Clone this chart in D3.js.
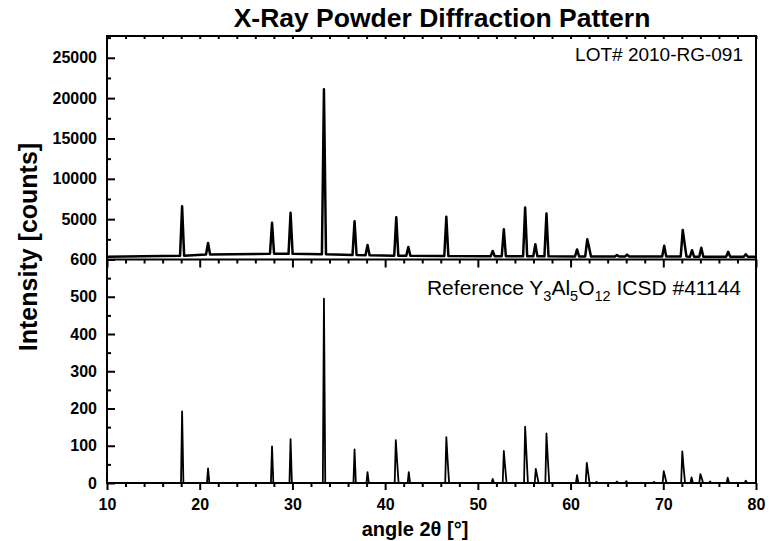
<!DOCTYPE html>
<html>
<head>
<meta charset="utf-8">
<script src="https://cdn.jsdelivr.net/npm/d3@7"></script>
<style>
  body { margin: 0; background: #fff; }
  text { font-family: "Liberation Sans", Arial, sans-serif; fill: #000; }
</style>
</head>
<body>
<svg width="772" height="541"></svg>
<script>
const angleTicks = [10, 20, 30, 40, 50, 60, 70, 80];
const topTicks = [5000, 10000, 15000, 20000, 25000];
const refTicks = [0, 100, 200, 300, 400, 500, 600];

const topStart = [10, 350];
const topEnd = [80, 330];
const topPeakAngle = [18.1, 20.9, 27.8, 29.8, 33.4, 36.7, 38.1, 41.2, 42.5, 46.6, 51.6, 52.8, 55.1, 56.2, 57.4, 60.7, 61.8, 65.0, 66.1, 70.1, 72.1, 73.1, 74.1, 77.0, 78.9];
const topPeakCounts = [6600, 2050, 4550, 5800, 21100, 4750, 1800, 5250, 1550, 5300, 1050, 3750, 6450, 1900, 5700, 1250, 2500, 550, 600, 1700, 3650, 1150, 1450, 950, 650];
const topShoulder = [0, 0, 0, 0, 0, 0, 0, 0, 0, 0, 0, 0, 0, 0, 0, 0, 1700, 0, 0, 0, 2300, 0, 0, 0, 0];
const topPeakFoot = [480, 620, 720, 700, 650, 560, 520, 480, 470, 430, 410, 410, 400, 400, 390, 380, 380, 370, 370, 360, 360, 350, 350, 340, 340];

const refPeakAngle = [18.1, 20.9, 27.8, 29.8, 33.4, 36.7, 38.1, 41.15, 42.55, 46.6, 51.6, 52.8, 55.1, 56.25, 57.4, 60.7, 61.75, 62.8, 65.0, 66.0, 69.0, 70.05, 72.05, 73.05, 74.0, 75.05, 76.95, 78.9];
const refPeakHeight = [192, 39, 98, 118, 495, 90, 29, 115, 29, 123, 11, 86, 151, 38, 133, 21, 54, 3, 4, 5, 3, 32, 85, 15, 24, 4, 14, 6];
const refShoulder = [0, 0, 0, 0, 0, 0, 0, 62, 0, 65, 0, 47, 84, 21, 71, 0, 30, 0, 0, 0, 0, 18, 45, 0, 14, 0, 0, 0];

const svg = d3.select("svg");
const plotLeft = 107, plotRight = 756, plotTop = 36, plotMid = 259.5, plotBottom = 483;

const x = d3.scaleLinear().domain([10, 80]).range([plotLeft, plotRight]);
const yTop = d3.scaleLinear().domain([0, 27700]).range([plotMid, plotTop]);
const yRef = d3.scaleLinear().domain([0, 600]).range([plotBottom, plotMid]);

// build the polylines from the peak lists
const topPoints = [topStart];
topPeakAngle.forEach((a, i) => {
  const f = topPeakFoot[i];
  topPoints.push([a - 0.22, f], [a, topPeakCounts[i]]);
  if (topShoulder[i]) topPoints.push([a + 0.16, topShoulder[i]], [a + 0.4, f]);
  else topPoints.push([a + 0.22, f]);
});
topPoints.push(topEnd);

const refPoints = [[10, 0]];
refPeakAngle.forEach((a, i) => {
  refPoints.push([a - 0.12, 0], [a, refPeakHeight[i]]);
  if (refShoulder[i]) refPoints.push([a + 0.13, refShoulder[i]], [a + 0.3, 0]);
  else refPoints.push([a + 0.14, 0]);
});
refPoints.push([80, 0]);

svg.append("path")
  .datum(topPoints)
  .attr("fill", "none")
  .attr("stroke", "#000")
  .attr("stroke-width", 2.5)
  .attr("stroke-linejoin", "round")
  .attr("d", d3.line().x(d => x(d[0])).y(d => yTop(d[1])));

svg.append("path")
  .datum(refPoints)
  .attr("fill", "none")
  .attr("stroke", "#000")
  .attr("stroke-width", 1.8)
  .attr("stroke-linejoin", "round")
  .attr("d", d3.line().x(d => x(d[0])).y(d => yRef(d[1])));

// axes
const tickFont = g => g.selectAll("text")
  .style("font-size", "16px").style("font-weight", "bold")
  .style("font-family", "'Liberation Sans', Arial, sans-serif");
const clean = g => { g.select(".domain").remove(); g.selectAll("line").attr("stroke-width", 2); };

const minorX = d3.range(10, 81, 2).filter(v => v % 10 !== 0);

// bottom x axis
svg.append("g").attr("transform", `translate(0,${plotBottom})`)
  .call(d3.axisBottom(x).tickValues(angleTicks).tickSize(7).tickPadding(9))
  .call(clean).call(tickFont);
svg.append("g").attr("transform", `translate(0,${plotBottom})`)
  .call(d3.axisBottom(x).tickValues(minorX).tickSize(4).tickFormat(""))
  .call(clean);

// ticks under the separator
svg.append("g").attr("transform", `translate(0,${plotMid})`)
  .call(d3.axisBottom(x).tickValues(angleTicks).tickSize(8).tickFormat(""))
  .call(clean);
svg.append("g").attr("transform", `translate(0,${plotMid})`)
  .call(d3.axisBottom(x).tickValues(minorX).tickSize(4).tickFormat(""))
  .call(clean);

// small ticks along the top border
svg.append("g").attr("transform", `translate(0,${plotTop})`)
  .call(d3.axisBottom(x).tickValues(d3.range(10, 81, 2)).tickSize(3).tickFormat(""))
  .call(clean);

// left axes, ticks inward
svg.append("g").attr("transform", `translate(${plotLeft},0)`)
  .call(d3.axisLeft(yTop).tickValues(topTicks).tickSize(-8).tickPadding(10).tickFormat(d3.format("d")))
  .call(clean).call(tickFont);
svg.append("g").attr("transform", `translate(${plotLeft},0)`)
  .call(d3.axisLeft(yTop).tickValues(d3.range(2500, 27600, 5000)).tickSize(-4).tickFormat(""))
  .call(clean);
svg.append("g").attr("transform", `translate(${plotLeft},0)`)
  .call(d3.axisLeft(yRef).tickValues(refTicks).tickSize(-8).tickPadding(10).tickFormat(d3.format("d")))
  .call(clean).call(tickFont);
svg.append("g").attr("transform", `translate(${plotLeft},0)`)
  .call(d3.axisLeft(yRef).tickValues(d3.range(50, 600, 100)).tickSize(-4).tickFormat(""))
  .call(clean);

// frame and separator
svg.append("rect")
  .attr("x", plotLeft).attr("y", plotTop)
  .attr("width", plotRight - plotLeft).attr("height", plotBottom - plotTop)
  .attr("fill", "none").attr("stroke", "#000").attr("stroke-width", 2);
svg.append("line")
  .attr("x1", plotLeft).attr("x2", plotRight).attr("y1", plotMid).attr("y2", plotMid)
  .attr("stroke", "#000").attr("stroke-width", 2);

// texts
svg.append("text")
  .attr("x", 442).attr("y", 27)
  .attr("text-anchor", "middle")
  .style("font-size", "26.5px").style("font-weight", "bold")
  .text("X-Ray Powder Diffraction Pattern");

svg.append("text")
  .attr("x", 415).attr("y", 536)
  .attr("text-anchor", "middle")
  .style("font-size", "20px").style("font-weight", "bold")
  .text("angle 2θ [°]");

svg.append("text")
  .attr("transform", "translate(37,247) rotate(-90)")
  .attr("text-anchor", "middle")
  .style("font-size", "25px").style("font-weight", "bold")
  .text("Intensity [counts]");

svg.append("text")
  .attr("x", 743).attr("y", 61)
  .attr("text-anchor", "end")
  .style("font-size", "19px")
  .text("LOT# 2010-RG-091");

const ref = svg.append("text")
  .attr("x", 741).attr("y", 295)
  .attr("text-anchor", "end")
  .style("font-size", "21px");
ref.append("tspan").text("Reference Y");
ref.append("tspan").attr("dy", 6).style("font-size", "14.5px").text("3");
ref.append("tspan").attr("dy", -6).text("Al");
ref.append("tspan").attr("dy", 6).style("font-size", "14.5px").text("5");
ref.append("tspan").attr("dy", -6).text("O");
ref.append("tspan").attr("dy", 6).style("font-size", "14.5px").text("12");
ref.append("tspan").attr("dy", -6).text(" ICSD #41144");
</script>
</body>
</html>
